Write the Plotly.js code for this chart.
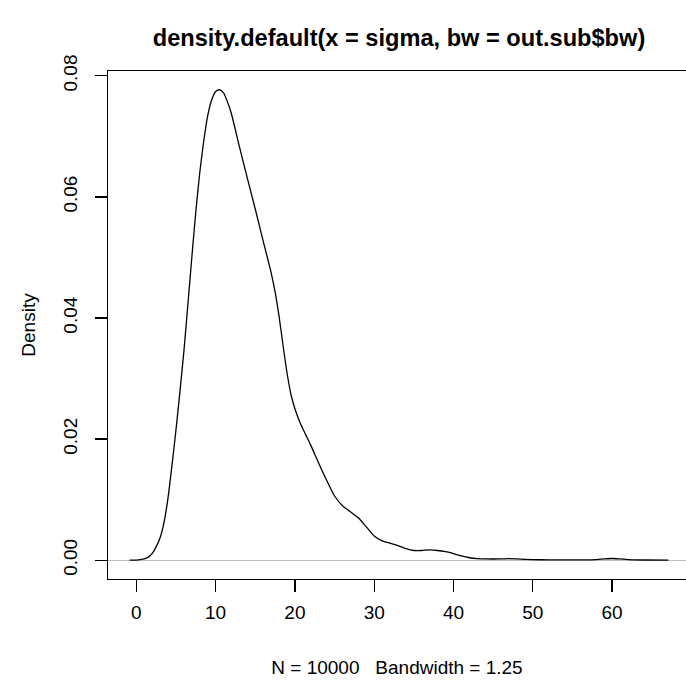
<!DOCTYPE html>
<html>
<head>
<meta charset="utf-8">
<script src="https://cdn.plot.ly/plotly-3.0.1.min.js"></script>
<style>html,body{margin:0;padding:0;background:#fff;}#chart{width:686px;height:681px;}</style>
</head>
<body>
<div id="chart"></div>
<script>
// Kernel density estimate of sigma
const sigmaX = [-0.85, 0, 0.5, 1, 1.5, 2, 2.5, 3, 3.5, 4, 4.5, 5, 5.5, 6, 6.5, 7, 7.5, 8, 8.5, 9, 9.5, 10, 10.5, 11, 11.5, 12, 13, 14, 15, 16, 17, 17.5, 18, 18.5, 19, 19.5, 20, 20.5, 21, 22, 23, 24, 25, 26, 27, 28, 29, 30, 31, 32, 33, 34, 35, 36, 37, 38, 39, 40, 41, 42, 43, 44, 46, 47, 48, 50, 52, 54, 56, 58, 59, 60, 61, 62, 64, 67.1];
const densityY = [0, 0.00002, 0.00008, 0.0002, 0.0005, 0.0011, 0.0022, 0.0037, 0.0063, 0.0103, 0.0157, 0.0215, 0.0278, 0.0345, 0.0422, 0.0500, 0.0575, 0.0640, 0.0692, 0.0734, 0.0760, 0.0774, 0.0777, 0.0772, 0.0757, 0.0737, 0.0683, 0.0631, 0.0580, 0.0527, 0.0475, 0.0443, 0.0403, 0.0355, 0.0310, 0.0274, 0.0250, 0.0232, 0.0217, 0.0190, 0.0160, 0.0132, 0.0106, 0.0090, 0.0080, 0.0070, 0.0055, 0.0040, 0.0032, 0.0028, 0.0024, 0.0019, 0.0016, 0.0016, 0.0017, 0.0016, 0.0014, 0.0011, 0.0007, 0.0004, 0.00025, 0.0002, 0.0002, 0.00025, 0.0002, 0.0001, 0.00005, 0.00004, 0.00005, 0.0001, 0.0002, 0.00028, 0.0002, 0.0001, 0.00003, 0];
const xTicks = [0, 10, 20, 30, 40, 50, 60];
const yTicks = [0, 0.02, 0.04, 0.06, 0.08];
const yTickText = ["0.00", "0.02", "0.04", "0.06", "0.08"];
const mainTitle = "density.default(x = sigma, bw = out.sub$bw)";
const xTitle = "N = 10000   Bandwidth = 1.25";
const yTitle = "Density";

const FONT = "Liberation Sans, Arial, Helvetica, sans-serif";

const trace = {
  x: sigmaX, y: densityY, type: 'scatter', mode: 'lines',
  line: {color: '#000000', width: 1.3, shape: 'spline', smoothing: 0.6},
  hoverinfo: 'none', showlegend: false
};

const layout = {
  width: 686, height: 681,
  margin: {l: 108, r: 0, t: 71, b: 102, pad: 0},
  paper_bgcolor: '#ffffff', plot_bgcolor: '#ffffff',
  font: {family: FONT, color: '#000000', size: 19},
  title: {text: '<b>' + mainTitle + '</b>', font: {family: FONT, size: 23.6, color: '#000'},
          x: 399/686, xanchor: 'center', xref: 'container', y: 1 - 38/681, yanchor: 'middle', yref: 'container'},
  xaxis: {
    range: [-3.57, 69.32], tickvals: xTicks, ticks: 'outside', ticklen: 12, tickwidth: 1.3, tickcolor: '#000',
    showline: true, mirror: true, linecolor: '#000', linewidth: 1.3, showgrid: false, zeroline: false,
    tickfont: {family: FONT, size: 19}, ticklabelstandoff: 4,
    title: {text: xTitle, font: {family: FONT, size: 19}, standoff: 38}
  },
  yaxis: {
    range: [-0.00311, 0.0808], tickvals: yTicks, ticktext: yTickText, ticks: 'outside', ticklen: 12, tickwidth: 1.3, tickcolor: '#000',
    showline: true, mirror: false, linecolor: '#000', linewidth: 1.3, showgrid: false,
    zeroline: true, zerolinecolor: '#bebebe', zerolinewidth: 1.3,
    tickangle: -90, tickfont: {family: FONT, size: 19}, ticklabelstandoff: 10,
    title: {text: yTitle, font: {family: FONT, size: 19}, standoff: 19}
  }
};

Plotly.newPlot('chart', [trace], layout, {displayModeBar: false, staticPlot: true});
</script>
</body>
</html>
